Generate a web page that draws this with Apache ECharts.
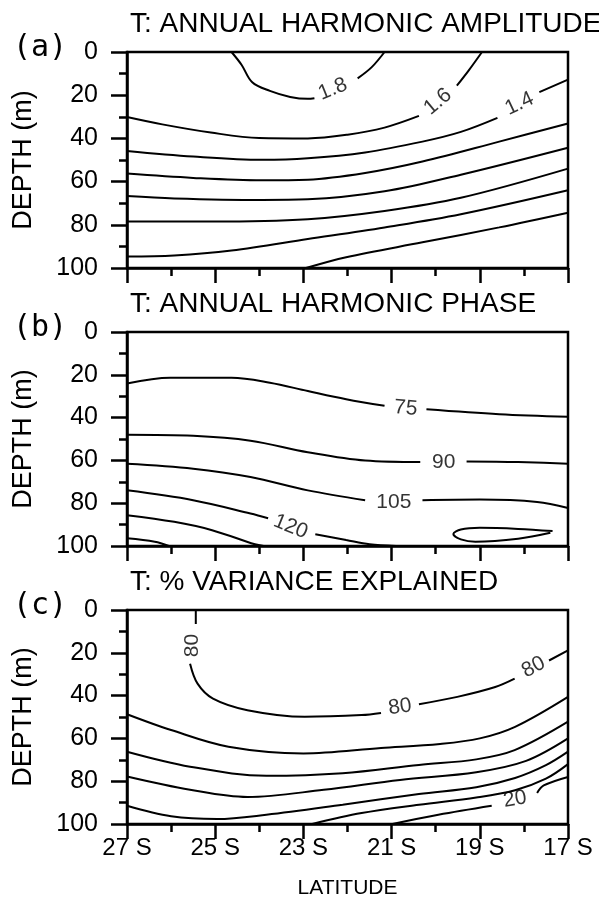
<!DOCTYPE html>
<html><head><meta charset="utf-8">
<script src="https://cdn.jsdelivr.net/npm/echarts@6/dist/echarts.min.js"></script>
<style>html,body{margin:0;padding:0;background:#fff}#c{width:599px;height:901px}</style>
</head><body><div id="c"></div>
<script>
// ---------- tick labels / text ----------
const latMajor = [27, 25, 23, 21, 19, 17];      // labelled latitudes (deg S)
const latMinor = [26, 24, 22, 20, 18];          // unlabelled latitude ticks
const depthRange = [0, 100];
const panelTitles = ['T: ANNUAL HARMONIC AMPLITUDE', 'T: ANNUAL HARMONIC PHASE', 'T: % VARIANCE EXPLAINED'];
const panelTags = ['(a)', '(b)', '(c)'];

// ---------- (a) amplitude contours: [latitude S, depth m], null = label gap ----------
const amp18 = [[24.63,0],[24.4,6],[24.16,14],[23.76,18],[23.3,20.8],[22.9,21.7],[22.75,21.4],null,[21.77,12.2],[21.45,7],[21.16,0]];
const amp16 = [[27,30.1],[26.2,33.5],[25.1,37.3],[24,39.8],[22.9,40],[22,38.3],[21.16,35],[20.38,29.6],null,[19.52,15.6],[19.25,8.5],[18.95,0]];
const amp14 = [[27,45.8],[25.5,48.4],[23.94,49.9],[22.9,49.2],[21.6,46.5],[20.3,41.5],[19.43,37],[18.6,30.5],null,[17.65,18.6],[17,12.8]];
const amp12 = [[27,56.3],[25.5,58.3],[23.94,59.4],[22.9,59.1],[21.6,56],[20.3,50.7],[18.56,41.5],[17,33.1]];
const amp10 = [[27,66.7],[25.93,67.8],[23.94,68.5],[22.9,68.2],[21.16,64.5],[19.43,56.8],[17,44.3]];
const amp08 = [[27,78.5],[25.07,78.5],[22.9,77.4],[21.16,73.6],[19.43,67.5],[17,54]];
const amp06 = [[27,94.7],[25.93,94.2],[24.63,91.9],[22.9,86.6],[21.16,81.2],[19.43,75.1],[17,64]];
const amp04 = [[22.94,100],[22.03,95],[20.3,88.1],[18.56,81.2],[17,74.4]];
const ampLabels = [[22.33,17.2,'1.8'],[19.95,23.0,'1.6'],[18.1,24.0,'1.4']];

// ---------- (b) phase contours ----------
const ph075 = [[27,24.1],[26.02,21.4],[24.63,21.4],[23.76,23.7],[22.9,27.6],[22.03,31.4],[21.16,34.5],null,[20.21,36.1],[18.56,38.4],[17,39.6]];
const ph090 = [[27,48],[25.5,48.5],[24.2,50.8],[22.9,56.2],[21.6,60.1],[20.35,60.8],null,[19.3,60.5],[18.13,60.8],[17,61.6]];
const ph105 = [[27,61.6],[25.5,63.9],[24.2,67.8],[22.9,74],[21.6,78.6],null,[20.3,78.6],[19,78.3],[17.7,79.4],[17,82.2]];
const ph120 = [[27,74],[25.5,78.6],[24.2,84.8],[23.8,87],null,[22.73,94.5],[22.03,97.2],[21.5,99.2],[20.9,100]];
const ph135 = [[27,85.6],[25.93,88.7],[25.07,92.6],[24.1,99.2],[23.9,100]];
const ph150 = [[27,96.4],[26.37,98],[26.05,100]];
const phLoop = [[17.35,93],[18.13,92],[19.0,91.5],[19.43,92.3],[19.6,94.4],[19.43,96.9],[19.1,98],[18.13,96.6],[17.4,93.8]];
const phLabels = [[20.68,35.6,'75'],[19.82,60.8,'90'],[20.95,79.4,'105'],[23.29,91,'120']];

// ---------- (c) % variance contours ----------
const var80 = [[25.44,0],[25.44,6.5],null,[25.57,25.1],[25.4,34.4],[25.05,41.4],[24.27,46.8],[22.97,49.9],[21.68,49.1],[21.24,48.1],null,[20.38,44],[19.51,40.6],[18.65,36],[18.21,32.1],null,[17.43,23.6],[17,18.9]];
const var70 = [[27,48.7],[26,56.1],[24.7,63.9],[23,67],[21.24,64.5],[19.9,62.6],[19,60],[18.2,54.6],[17,40.6]];
const var60 = [[27,66.2],[25.57,73.2],[23.84,77.5],[22.11,76.3],[20.38,72.4],[19.08,69.8],[18.21,65.5],[17,52.2]];
const var50 = [[27,77.8],[25.57,84],[24.27,87.4],[22.54,84],[20.81,79.4],[19.08,75.8],[17.95,70.5],[17,60]];
const var40 = [[27,91.5],[26,96.4],[24.96,97.7],[23.84,95.7],[22.11,91],[20.38,86],[19.08,82.8],[18.2,78.5],[17.5,72.5],[17,66.2]];
const var30 = [[22.8,100],[21.68,94.9],[20.38,91],[19.08,87.6],[18.2,84.2],[17.5,78.8],[17,72]];
const var20 = [[20.98,100],[19.94,95.7],[18.73,91.5],null,[17.7,85.5],[17.55,82],[17,78]];
const varLabels = [[25.53,16.6,'80'],[20.81,45.3,'80'],[17.78,26.7,'80'],[18.2,88.4,'20']];

// label rotations (style)
const rotA = [22, 40, 25];
const rotB = [-5, 0, 0, -22];
const rotC = [90, 8, 28, 10];

// ---------- layout / style ----------
const grids = [
  {left:127, top:52, width:441, height:216},
  {left:127, top:332, width:441, height:214},
  {left:127, top:610, width:441, height:214}
];
const FONT = 'Liberation Sans, Arial, Helvetica, sans-serif';
const INK = '#000';

const panels = [
  {lines:[amp18,amp16,amp14,amp12,amp10,amp08,amp06,amp04], labels:ampLabels, rot:rotA},
  {lines:[ph075,ph090,ph105,ph120,ph135,ph150,phLoop], labels:phLabels, rot:rotB},
  {lines:[var80,var70,var60,var50,var40,var30,var20], labels:varLabels, rot:rotC}
];

const xAxis = [], yAxis = [], series = [], title = [];
grids.forEach((g, i) => {
  const last = i === grids.length - 1;
  xAxis.push({
    type:'value', gridIndex:i, min:17, max:27, inverse:true, position:'bottom',
    axisLine:{show:true, onZero:false, lineStyle:{color:INK, width:2.5}},
    axisTick:{show:true, length:15, customValues:latMajor, lineStyle:{color:INK, width:2.5}},
    axisLabel:{show:last, customValues:latMajor, formatter:v => v + ' S', color:INK, fontSize:24, fontFamily:FONT, margin:12},
    splitLine:{show:false},
    name: last ? 'LATITUDE' : '', nameLocation:'middle', nameGap:54,
    nameTextStyle:{color:INK, fontSize:21, fontFamily:FONT}
  });
  xAxis.push({
    type:'value', gridIndex:i, min:17, max:27, inverse:true, position:'bottom',
    axisLine:{show:false, onZero:false},
    axisTick:{show:true, length:8, customValues:latMinor, lineStyle:{color:INK, width:2.5}},
    axisLabel:{show:false}, splitLine:{show:false}
  });
  yAxis.push({
    type:'value', gridIndex:i, min:depthRange[0], max:depthRange[1], interval:20, inverse:true,
    axisLine:{show:true, onZero:false, lineStyle:{color:INK, width:2.5}},
    axisTick:{show:true, length:16, lineStyle:{color:INK, width:2.5}},
    minorTick:{show:true, splitNumber:2, length:8, lineStyle:{color:INK, width:2.5}},
    axisLabel:{color:INK, fontSize:25, fontFamily:FONT, margin:29},
    splitLine:{show:false},
    name:'DEPTH (m)', nameLocation:'middle', nameGap:90, nameRotate:90,
    nameTextStyle:{color:INK, fontSize:27, fontFamily:FONT}
  });
  title.push({text:panelTitles[i], left:125, top:g.top - 47,
    textStyle:{color:INK, fontSize:28, fontWeight:'normal', fontFamily:FONT}});
  title.push({text:panelTags[i], left:8, top:g.top - 24,
    textStyle:{color:INK, fontSize:30, fontWeight:'normal', fontFamily:'DejaVu Sans Mono, monospace'}});

  const p = panels[i];
  p.lines.forEach(arr => {
    series.push({
      type:'line', xAxisIndex:2*i, yAxisIndex:i, smooth:0.35, showSymbol:false, symbol:'none',
      connectNulls:false, silent:true, clip:true,
      lineStyle:{color:INK, width:2},
      data: arr.map(pt => pt === null ? ['-','-'] : pt)
    });
  });
  series.push({
    type:'scatter', xAxisIndex:2*i, yAxisIndex:i, symbolSize:0, silent:true,
    data: p.labels.map((l, k) => ({value:l, label:{rotate:p.rot[k]}})),
    label:{show:true, position:'inside', formatter:q => q.data.value[2],
      color:INK, fontSize:21, fontFamily:FONT}
  });
});

const chart = echarts.init(document.getElementById('c'), null, {renderer:'canvas'});
chart.setOption({
  animation:false,
  backgroundColor:'#fff',
  title,
  grid: grids.map(g => Object.assign({show:true, borderColor:INK, borderWidth:2.5, backgroundColor:'transparent'}, g)),
  xAxis, yAxis, series
});
</script></body></html>
